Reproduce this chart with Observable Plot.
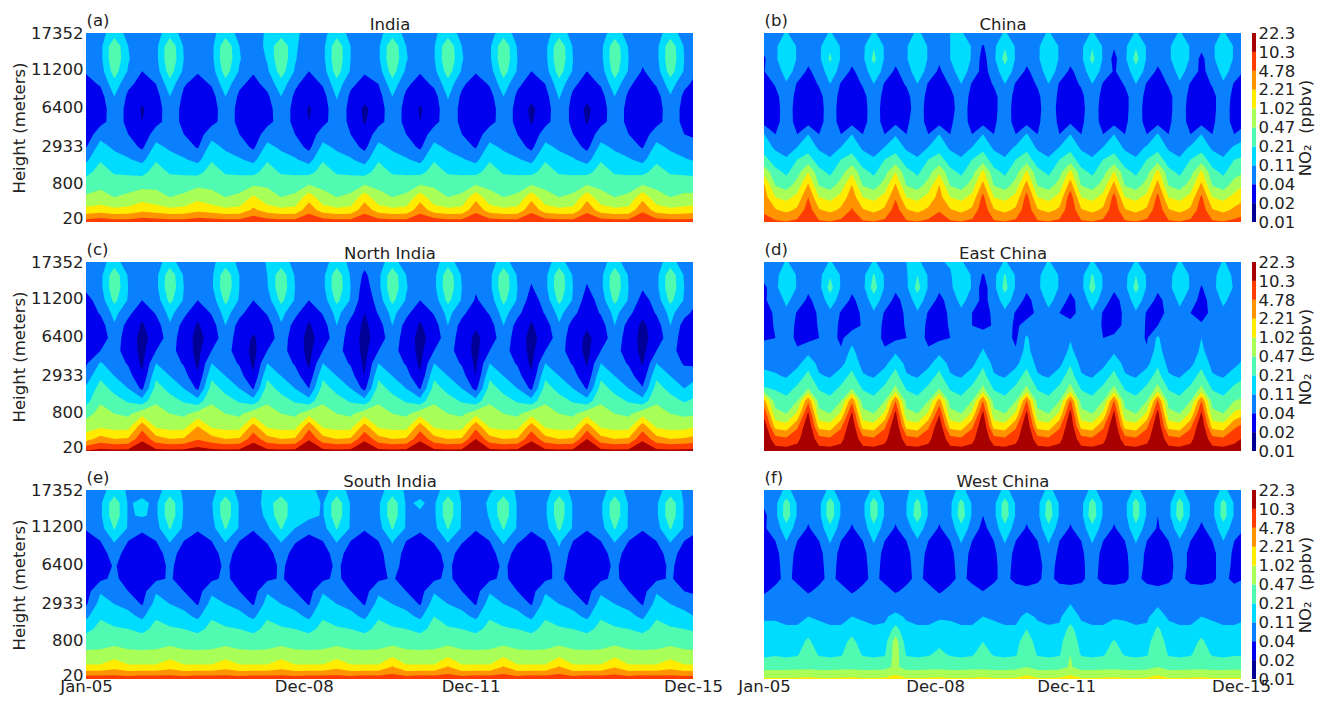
<!doctype html>
<html><head><meta charset="utf-8">
<script src="https://cdn.jsdelivr.net/npm/d3@7"></script>
<script src="https://cdn.jsdelivr.net/npm/@observablehq/plot@0.6"></script>
<style>
html,body{margin:0;background:#fff;overflow:hidden}
#chart{position:relative;width:1330px;height:702px;overflow:hidden}
#chart svg{position:absolute;background:transparent;overflow:visible}
</style></head><body><div id="chart"></div>
<script>
// Labels
const heightLabels = ["20","800","2933","6400","11200","17352"];
const heightTickRows = [0.3,3.1,6,9.1,12.1,15];
const monthLabels = ["Jan-05","Dec-08","Dec-11","Dec-15"];
const monthTicks = [0,47,83,131];
const ppbvLabels = ["0.01","0.02","0.04","0.11","0.21","0.47","1.02","2.21","4.78","10.3","22.3"];
const bandColors = ["#000096","#0000ee","#0a80ff","#00dcff","#50fab0","#a8ff58","#ffec00","#ff9400","#ff3c00","#a80000"];
const bandThresholds = [0,10,20,30,40,50,60,70,80,90];
// NO2, as colour-band position x 10 (10 = 0.02 ppbv ... 100 = 22.3 ppbv).
// Rows run from the top height to the surface; columns are quarterly from Jan-05 (Jan, Apr, Jul, Oct).
const india = [
[24,26,36,27,24,26,36,26,24,27,36,27,24,32,36,33,24,27,36,27,24,27,36,27,24,28,36,27,24,26,36,26,24,26,36,26,24,26,35,26,24,26,35,26,24],
[23,27,48,30,23,27,48,29,23,27,48,30,23,33,48,32,23,27,47,30,23,28,48,30,24,29,48,30,23,28,48,29,23,27,48,29,23,27,47,29,23,27,47,29,23],
[22,27,49,31,22,27,49,30,22,27,49,31,22,31,49,31,22,27,48,30,22,28,49,31,22,29,49,31,22,28,49,30,22,27,49,30,22,27,48,30,22,27,48,30,22],
[21,25,45,29,20,25,45,28,21,25,45,29,21,28,45,29,20,25,45,29,21,25,45,28,21,27,45,29,21,25,45,29,20,25,45,29,20,25,45,29,19,25,45,29,20],
[17,21,36,22,17,20,36,21,16,21,36,22,17,23,36,22,15,21,36,22,17,20,36,22,16,22,36,22,15,21,36,22,16,20,36,22,16,21,36,22,15,21,35,22,17],
[13,16,30,18,12,16,30,18,12,16,30,18,14,18,30,18,12,16,31,18,13,16,30,18,12,16,31,18,12,16,30,18,12,16,31,18,12,16,30,18,12,16,29,18,13],
[11,15,26,17,9,15,26,17,12,15,26,17,10,16,26,17,9,15,27,17,8,15,26,17,9,15,27,17,11,15,26,17,8,15,27,17,8,15,26,17,11,15,26,17,10],
[11,17,24,18,10,17,24,18,13,17,24,18,11,17,24,18,10,17,25,18,9,17,24,18,10,17,25,18,12,17,24,18,9,17,25,18,9,17,24,18,12,17,24,18,12],
[14,26,25,20,13,25,25,20,15,26,25,20,14,25,25,20,14,25,25,20,13,25,25,20,14,25,25,20,15,25,25,20,13,25,25,20,13,25,25,20,15,25,25,20,17],
[20,34,28,25,18,33,28,25,19,34,28,25,18,33,28,25,17,33,28,25,17,33,28,25,18,33,28,25,19,33,28,25,17,33,28,25,17,33,28,25,19,33,28,25,24],
[28,39,34,31,27,39,34,31,27,39,34,31,27,39,34,31,26,39,34,31,26,39,34,31,27,39,34,31,27,39,34,31,27,39,34,31,26,39,34,31,27,38,34,31,28],
[37,44,39,38,37,44,39,38,37,44,39,38,37,44,39,38,37,44,39,38,36,44,39,38,37,44,39,38,37,44,39,38,37,44,39,38,37,44,39,38,37,44,39,38,37],
[47,48,45,46,47,48,45,46,48,48,45,46,49,49,45,46,50,48,45,46,50,48,45,46,50,49,45,46,50,48,45,46,50,48,45,46,50,48,45,46,50,48,45,46,46],
[51,53,50,52,56,53,50,52,57,53,50,52,62,53,50,52,66,53,50,52,66,53,50,52,66,53,50,52,67,53,50,52,67,53,50,52,67,53,50,52,67,53,50,52,52],
[63,65,62,63,67,65,62,63,67,65,62,63,72,65,62,63,76,65,62,63,76,65,62,63,76,65,62,63,77,65,62,63,77,65,62,63,77,65,62,63,78,65,62,63,65],
[86,88,86,86,88,87,86,86,88,87,86,86,89,87,86,86,89,87,86,86,89,87,86,86,89,88,86,86,89,87,86,86,89,87,86,86,89,87,86,86,89,87,86,86,87]];
const china = [
[27,26,31,25,27,26,31,26,27,26,31,27,27,28,31,28,27,30,31,26,27,26,31,26,27,27,31,26,27,26,31,26,27,26,31,26,27,26,31,26,27,27,31,26,27],
[24,28,38,29,25,28,38,29,25,28,39,29,25,29,38,29,25,30,38,29,19,28,39,29,25,28,38,29,25,28,39,29,21,28,39,29,25,28,38,29,23,28,38,29,25],
[19,28,40,29,23,28,42,29,23,28,43,29,23,29,40,29,22,30,37,29,16,28,44,29,23,28,40,29,23,28,43,29,17,28,44,29,23,28,38,29,17,28,37,29,23],
[20,25,34,27,18,25,35,27,18,25,36,27,18,26,35,27,18,27,34,27,16,25,36,27,18,25,35,27,18,25,36,27,19,25,36,27,18,25,33,27,17,25,33,27,19],
[15,21,29,19,15,21,30,19,15,21,30,19,16,21,30,19,15,21,30,19,15,21,30,19,16,21,30,19,17,21,30,19,15,21,30,19,15,21,29,19,15,21,29,19,16],
[14,17,26,17,14,17,26,17,14,17,26,17,15,17,26,17,14,17,26,17,14,17,26,17,15,18,26,18,16,18,26,17,14,17,26,17,14,17,26,17,14,17,26,17,15],
[14,17,24,17,14,17,24,17,14,17,24,17,15,17,24,17,14,17,24,17,14,18,24,17,14,18,24,18,16,18,24,17,14,18,24,17,14,18,24,17,14,18,24,17,15],
[16,18,23,18,16,18,23,18,16,18,23,18,17,19,23,18,16,19,23,18,16,19,23,18,16,19,23,19,18,19,23,18,16,19,23,18,16,19,23,18,16,19,23,18,17],
[30,20,23,20,30,20,23,20,30,20,23,20,29,20,23,20,30,20,23,20,30,20,23,20,31,20,23,20,30,20,23,20,30,20,23,20,31,20,23,20,30,20,23,20,27],
[35,28,26,30,36,28,26,30,36,28,26,30,36,28,26,30,36,28,26,30,37,28,26,31,37,28,26,30,37,28,26,30,36,28,26,31,37,28,26,31,36,28,26,31,34],
[43,35,31,40,44,35,31,40,44,35,31,40,44,35,31,40,44,35,31,40,45,35,31,40,45,35,31,40,45,35,31,40,44,35,31,40,45,35,31,40,45,35,31,40,42],
[56,43,38,46,60,43,38,46,58,43,38,46,60,43,38,46,58,43,38,46,63,43,38,46,62,43,38,46,63,43,38,46,61,43,38,46,64,43,38,46,62,43,38,46,50],
[70,49,45,54,71,49,45,54,70,49,45,54,71,49,45,54,70,49,45,54,73,49,45,54,74,49,45,54,75,49,45,54,73,49,45,54,74,49,45,54,72,49,45,54,61],
[74,60,57,63,80,60,57,63,76,60,57,63,79,60,57,63,74,60,57,63,83,60,57,63,84,60,57,63,86,60,57,63,84,60,57,63,83,60,57,63,82,60,57,63,68],
[78,71,67,72,85,71,67,72,81,71,67,72,85,71,67,72,79,71,67,72,87,71,67,72,87,71,67,72,88,71,67,72,87,71,67,72,87,71,67,72,86,71,67,72,77],
[84,82,81,83,89,82,81,83,87,82,81,83,89,82,81,83,86,82,81,83,89,82,81,83,89,82,81,83,89,82,81,83,89,82,81,83,89,82,81,83,89,82,81,83,84]];
const northIndia = [
[23,26,35,24,23,26,35,24,23,28,35,28,23,31,35,27,23,26,35,28,23,26,35,24,23,26,36,24,23,26,35,24,23,26,35,24,23,26,35,24,23,26,35,24,23],
[22,27,47,29,22,27,47,29,22,28,47,30,22,30,47,29,22,27,47,29,18,27,47,30,22,27,47,29,22,27,47,29,22,27,47,29,22,27,47,29,22,27,47,29,22],
[22,27,48,30,21,27,48,30,21,28,48,30,21,29,48,30,21,27,48,30,15,27,48,31,21,27,48,30,21,27,48,30,19,27,48,30,19,27,48,30,21,27,48,30,21],
[17,24,43,29,20,24,43,29,20,24,43,29,20,25,43,29,20,24,43,29,13,24,43,29,20,24,43,29,19,24,43,29,15,24,43,29,15,24,43,29,16,24,43,29,20],
[14,21,33,23,12,21,33,23,12,21,34,23,14,21,33,23,12,21,33,23,10,21,33,23,12,21,33,23,13,21,34,23,12,21,33,23,13,21,33,23,12,21,33,23,16],
[13,15,29,16,9,15,29,16,9,15,30,16,12,15,29,16,9,15,30,16,8,15,30,16,9,15,30,16,11,15,30,16,9,15,29,16,11,15,30,16,8,15,30,16,13],
[12,14,25,15,7,14,25,15,7,14,26,15,9,14,25,15,7,14,26,15,7,14,26,15,7,14,26,15,8,14,26,15,7,14,25,15,8,14,26,15,7,14,26,15,13],
[14,20,23,16,7,20,23,16,7,20,23,16,7,20,23,16,7,20,23,16,7,20,23,16,7,20,23,16,7,20,23,16,7,20,23,16,7,20,23,16,7,20,23,16,13],
[19,31,25,19,8,30,25,19,8,30,25,19,8,30,25,19,8,30,25,19,8,30,25,19,8,30,25,19,8,30,25,19,8,30,25,19,9,30,25,19,9,30,25,19,17],
[25,38,30,24,11,38,30,24,11,38,30,24,11,38,30,24,13,38,30,24,10,38,30,24,11,38,30,24,10,38,30,24,11,38,30,24,12,38,30,24,14,38,30,24,29],
[32,44,37,30,18,44,37,30,18,44,37,30,19,44,37,30,20,44,37,30,17,44,37,30,19,44,37,30,17,44,37,30,18,44,37,30,19,44,37,30,21,44,37,30,36],
[37,49,44,39,34,49,44,39,34,49,44,39,34,49,44,39,34,49,44,39,34,49,44,39,34,49,44,39,34,49,44,39,34,49,44,39,34,49,44,39,34,49,44,39,43],
[47,53,50,48,56,53,50,48,54,53,50,48,56,53,50,48,56,53,50,48,56,53,50,48,56,53,50,48,56,53,50,48,56,53,50,48,56,53,50,48,56,53,50,48,49],
[55,58,56,56,76,58,56,56,70,58,56,56,74,58,56,56,77,58,56,56,74,58,56,56,75,58,56,56,77,58,56,56,75,58,56,56,75,58,56,56,75,58,56,56,60],
[66,74,70,71,88,74,70,71,79,74,70,71,86,74,70,71,89,74,70,71,88,74,70,71,88,74,70,71,90,74,70,71,88,74,70,71,90,74,70,71,88,74,70,71,74],
[92,94,94,94,99,94,94,94,96,94,94,94,99,94,94,94,99,94,94,94,99,94,94,94,99,94,94,94,99,94,94,94,99,94,94,94,99,94,94,94,99,94,94,94,94]];
const eastChina = [
[27,25,31,26,27,25,31,26,27,25,31,27,27,30,31,28,29,31,31,26,27,25,31,26,27,25,31,26,27,25,31,26,27,25,31,26,27,25,31,26,27,25,31,26,27],
[25,27,37,29,25,27,39,29,25,27,41,29,25,29,40,29,25,29,37,29,19,27,41,29,25,27,38,29,25,27,41,29,25,27,40,29,25,27,36,29,24,27,35,28,25],
[18,27,40,29,22,27,44,29,22,27,45,29,22,28,44,29,22,27,40,29,15,27,44,29,22,27,40,29,22,27,45,29,22,27,44,29,22,27,38,29,19,27,36,29,22],
[19,24,32,26,18,24,35,26,18,24,35,26,17,24,35,26,17,24,33,26,17,24,35,26,17,24,33,26,17,24,35,26,16,24,35,26,17,24,32,26,16,24,32,26,20],
[15,22,28,19,14,22,28,19,15,22,29,19,15,22,29,19,15,22,28,20,16,22,28,19,16,22,28,20,18,22,29,19,15,22,29,19,17,22,28,20,17,22,28,20,21],
[16,21,25,18,15,21,25,18,16,21,25,18,16,21,25,18,16,21,25,20,17,21,25,18,24,21,25,20,22,21,25,19,18,21,25,19,20,21,25,20,21,21,25,20,21],
[19,20,24,18,17,20,24,18,26,20,24,18,18,20,24,18,18,20,24,20,26,20,24,18,32,20,24,20,29,20,24,20,21,20,24,19,32,20,24,20,30,20,24,20,24],
[24,22,23,21,27,22,23,21,33,22,23,21,28,22,23,21,27,22,23,21,31,22,23,21,34,22,23,21,33,22,23,21,28,22,23,21,35,22,23,21,33,22,23,21,29],
[27,27,25,27,36,27,25,27,36,27,25,27,37,27,25,27,36,27,25,27,38,27,25,27,37,27,25,27,39,27,25,27,36,27,25,27,38,27,25,27,37,27,25,27,33],
[33,31,29,35,43,31,29,35,43,31,29,35,44,31,29,35,43,31,29,35,44,31,29,35,44,31,29,35,45,31,29,35,43,31,29,35,44,31,29,35,44,31,29,35,39],
[41,39,36,42,50,39,36,42,50,39,36,42,52,39,36,42,50,39,36,42,52,39,36,42,52,39,36,42,53,39,36,42,52,39,36,42,53,39,36,42,52,39,36,42,46],
[72,46,43,50,78,46,43,50,78,46,43,50,80,46,43,50,75,46,43,50,80,46,43,50,81,46,43,50,82,46,43,50,81,46,43,50,82,46,43,50,80,46,43,50,52],
[86,53,50,62,92,53,50,62,92,53,50,62,93,53,50,62,89,53,50,62,93,53,50,62,93,53,50,62,94,53,50,62,93,53,50,62,94,53,50,62,92,53,50,62,68],
[96,66,64,78,99,66,64,78,99,66,64,78,99,66,64,78,98,66,64,78,99,66,64,78,99,66,64,78,99,66,64,78,99,66,64,78,99,66,64,78,99,66,64,78,84],
[99,84,82,87,99,84,82,87,99,84,82,87,99,84,82,87,99,84,82,87,99,84,82,87,99,84,82,87,99,84,82,87,99,84,82,87,99,84,82,87,99,84,82,87,92],
[99,95,95,95,99,95,95,95,99,95,95,95,99,95,95,95,99,95,95,95,99,95,95,95,99,95,95,95,99,95,95,95,99,95,95,95,99,95,95,95,99,95,95,95,98]];
const southIndia = [
[25,27,34,29,27,27,34,29,25,28,34,28,25,33,34,30,33,27,34,28,25,27,34,29,28,27,34,29,25,29,34,29,25,27,34,28,25,27,34,28,25,27,34,29,25],
[24,28,47,29,32,28,47,29,24,29,47,29,24,35,47,32,35,29,47,29,24,28,47,29,31,28,47,29,24,32,47,29,24,28,47,29,24,28,47,29,24,28,47,29,24],
[23,28,47,29,31,28,47,29,23,28,47,29,23,33,47,32,33,29,47,29,23,28,47,29,29,28,47,29,23,31,47,29,23,28,47,29,23,28,47,29,23,28,47,29,23],
[21,26,41,29,22,26,41,28,21,26,41,29,21,28,41,30,23,26,41,29,21,26,41,29,22,27,41,29,21,28,41,29,21,26,42,29,21,26,41,29,21,26,41,29,21],
[16,20,31,20,16,20,31,20,17,20,31,20,16,21,31,21,17,20,31,20,16,20,31,20,16,21,31,21,16,20,32,21,17,20,32,20,16,20,31,20,16,20,31,20,17],
[15,16,24,16,15,16,24,16,15,16,24,16,15,16,25,16,15,16,24,16,15,16,27,16,15,16,24,16,15,16,25,16,15,16,28,16,15,16,24,16,15,16,24,16,15],
[14,15,21,15,14,15,22,15,14,15,22,15,14,15,22,15,14,15,22,15,14,15,25,15,14,15,22,15,14,15,22,15,14,15,25,15,14,15,22,15,14,15,22,15,14],
[15,18,22,16,15,18,21,16,15,18,22,16,15,18,21,16,15,18,22,16,15,18,21,16,15,18,22,16,15,18,22,16,15,18,22,16,15,18,22,16,15,18,21,16,15],
[16,29,26,20,16,29,26,20,16,28,26,20,16,29,26,20,16,29,26,20,16,28,26,20,16,29,26,20,16,29,26,20,16,29,26,20,16,28,26,20,16,29,26,20,18],
[19,34,30,27,19,34,30,27,19,34,30,27,19,34,30,27,19,35,30,27,19,34,30,27,19,35,30,27,19,35,30,27,19,34,30,27,19,35,30,27,19,34,30,27,24],
[28,39,36,33,28,39,36,33,28,39,36,33,28,39,36,33,28,39,36,33,28,39,36,33,28,40,36,33,28,39,36,33,28,39,36,33,28,39,36,33,28,39,36,33,29],
[37,43,41,40,37,43,41,40,37,43,41,40,37,43,41,40,37,43,41,40,37,43,41,40,37,43,41,40,37,43,41,40,37,43,41,40,37,43,41,40,37,43,41,40,38],
[46,47,47,47,46,47,47,47,46,47,47,47,46,47,47,47,46,47,47,47,46,47,47,47,46,47,47,47,46,47,47,47,46,47,47,47,46,47,47,47,46,47,47,47,46],
[52,52,56,52,52,52,56,52,52,52,56,52,52,52,56,52,52,52,56,52,52,52,57,52,52,52,57,52,52,52,57,52,52,52,57,52,52,52,57,52,52,52,56,52,52],
[62,62,66,62,62,62,66,62,62,62,66,62,62,62,66,62,62,62,67,62,62,62,71,62,62,62,71,62,62,62,71,62,62,62,71,62,62,62,69,62,62,62,66,62,62],
[88,88,87,87,88,88,87,87,88,88,87,87,88,88,87,87,88,88,87,87,89,88,87,87,89,88,87,87,89,88,87,87,89,88,87,87,89,88,87,87,89,88,87,87,88]];
const westChina = [
[25,26,32,27,25,26,32,27,25,26,32,28,25,29,33,28,25,28,32,27,25,26,32,27,25,26,32,27,25,26,32,27,25,26,32,27,25,26,32,27,25,26,32,27,25],
[22,27,45,29,24,27,46,29,24,27,46,29,24,30,44,29,24,28,44,29,24,27,45,29,24,27,44,29,24,27,45,29,24,27,45,29,24,27,45,29,24,27,44,29,24],
[18,27,46,29,22,27,47,29,22,27,46,29,22,30,46,29,22,28,46,29,20,27,46,29,22,27,46,29,22,27,47,29,22,27,45,29,20,27,46,29,22,27,45,29,22],
[19,25,36,26,19,25,37,26,19,25,37,26,19,26,35,26,19,25,37,26,17,25,37,26,19,25,37,26,19,25,37,26,19,25,37,26,19,25,35,26,18,25,35,26,20],
[16,20,30,20,16,20,31,20,16,20,31,20,16,20,29,20,16,20,31,20,15,20,31,20,16,20,31,20,16,20,31,20,16,20,31,20,16,20,29,20,16,20,30,20,19],
[14,17,26,17,14,17,26,17,14,17,26,17,15,17,26,17,14,17,26,17,14,18,26,17,15,18,26,18,15,18,26,17,15,18,26,18,14,17,26,17,15,17,26,18,17],
[15,17,24,17,15,17,24,17,15,17,24,17,16,17,24,17,15,17,24,17,15,18,24,17,17,17,24,17,16,18,24,17,16,18,24,18,15,17,24,18,16,18,24,18,16],
[16,18,22,18,16,18,22,18,16,18,22,18,17,18,22,18,16,18,22,18,16,19,22,18,17,19,22,18,18,19,22,18,18,19,22,18,17,19,22,18,18,19,22,18,20],
[19,22,23,23,19,22,23,23,19,22,23,23,19,22,23,23,19,22,23,23,20,22,23,23,22,22,23,23,22,22,23,23,22,22,23,23,22,22,23,23,22,22,23,23,22],
[24,25,25,25,25,25,25,25,25,25,25,26,26,25,25,25,25,25,25,25,25,25,25,25,26,25,25,26,30,25,25,25,25,25,25,26,29,25,25,25,25,25,25,25,25],
[29,29,28,28,30,29,28,28,30,29,28,29,32,29,28,28,29,29,28,28,30,29,28,28,32,29,28,29,34,29,28,28,29,29,28,29,33,29,28,28,30,29,28,28,29],
[32,32,31,31,36,32,31,31,36,32,31,31,44,32,31,31,33,32,31,31,35,32,31,31,40,32,31,31,44,32,31,31,34,32,31,31,42,32,31,31,36,32,31,31,32],
[34,35,35,36,42,35,35,36,43,35,35,36,55,35,35,36,38,35,35,36,40,35,35,36,47,35,35,36,50,35,35,36,41,35,35,36,48,35,35,36,42,35,35,36,36],
[38,39,38,39,45,39,38,39,46,39,38,39,55,39,38,39,42,39,38,39,44,39,38,39,48,39,38,39,50,39,38,39,44,39,38,39,48,39,38,39,45,39,38,39,39],
[46,46,46,47,47,46,46,47,47,46,46,47,52,46,46,47,47,46,46,47,47,46,46,47,50,46,46,47,51,46,46,47,47,46,46,47,50,46,46,47,47,46,46,47,46],
[62,62,62,62,63,62,62,62,63,62,62,62,65,62,62,62,63,62,62,62,63,62,62,62,65,62,62,62,65,62,62,62,63,62,62,62,65,62,62,62,63,62,62,62,62]];

const font = {fontFamily:"'DejaVu Sans',sans-serif",fontSize:"16.5px",color:"#222",background:"transparent"};
const chart = document.getElementById("chart");
const COLS = 45, ROWS = 16;

function panel(rows, title, tag, left, top, frameLeft, frameW, showY, showX) {
  rows.forEach((r,i)=>{ if(r.length!==COLS) throw new Error(title+" row "+i+" has "+r.length); });
  if (rows.length!==ROWS) throw new Error(title+" rows "+rows.length);
  const marks = [
    Plot.contour(rows.flat(), {width:COLS, height:ROWS, x1:-1.5, x2:133.5, y1:15.5, y2:-0.5,
      fill:Plot.identity, thresholds:bandThresholds, clip:true}),
    Plot.text([title], {frameAnchor:"top", dy:-4, lineAnchor:"bottom", fontSize:16.5, fill:"#222"}),
    Plot.text([tag], {frameAnchor:"top-left", dy:-8, lineAnchor:"bottom", textAnchor:"start", fontSize:16.5, fill:"#222"})
  ];
  if (showY) marks.push(Plot.text(["Height (meters)"], {frameAnchor:"left", dx:-67, rotate:-90, textAnchor:"middle", fontSize:16.5, fill:"#222"}));
  const p = Plot.plot({
    width: frameLeft+frameW+40, height:244, marginLeft:frameLeft, marginRight:40, marginTop:33, marginBottom:22,
    style:font,
    x:{domain:[0,131], axis: showX?"bottom":null, ticks:monthTicks, tickFormat:d=>monthLabels[monthTicks.indexOf(d)], tickSize:0, tickPadding:1, label:null},
    y:{domain:[0,15], axis: showY?"left":null, ticks:heightTickRows, tickFormat:d=>heightLabels[heightTickRows.indexOf(d)], tickSize:0, tickPadding:3, label:null},
    color:{type:"threshold", domain:bandThresholds.slice(1), range:bandColors},
    marks
  });
  p.style.left = left+"px"; p.style.top = top+"px";
  chart.appendChild(p);
}
function colorbar(top) {
  const idx = d3.range(10);
  const p = Plot.plot({
    width:90, height:244, marginLeft:12, marginRight:74, marginTop:33, marginBottom:22,
    style:font,
    x:{domain:[0,1], axis:null},
    y:{domain:[0,10], axis:"right", ticks:d3.range(11), tickFormat:d=>ppbvLabels[d], tickSize:0, tickPadding:2, label:null},
    marks:[
      Plot.rect(idx, {x1:0, x2:1, y1:d=>d, y2:d=>d+1, fill:d=>bandColors[d]}),
      Plot.text(["NO\u2082  (ppbv)"], {frameAnchor:"right", dx:49, rotate:-90, textAnchor:"middle", fontSize:16.5, fill:"#222"})
    ]
  });
  p.style.left = "1240px"; p.style.top = top+"px";
  chart.appendChild(p);
}
panel(india,"India","(a)",0,0,86,607,true,false);
panel(china,"China","(b)",730,0,34,477,false,false);
panel(northIndia,"North India","(c)",0,229,86,607,true,false);
panel(eastChina,"East China","(d)",730,229,34,477,false,false);
panel(southIndia,"South India","(e)",0,457,86,607,true,true);
panel(westChina,"West China","(f)",730,457,34,477,false,true);
colorbar(0); colorbar(229); colorbar(457);
</script></body></html>
